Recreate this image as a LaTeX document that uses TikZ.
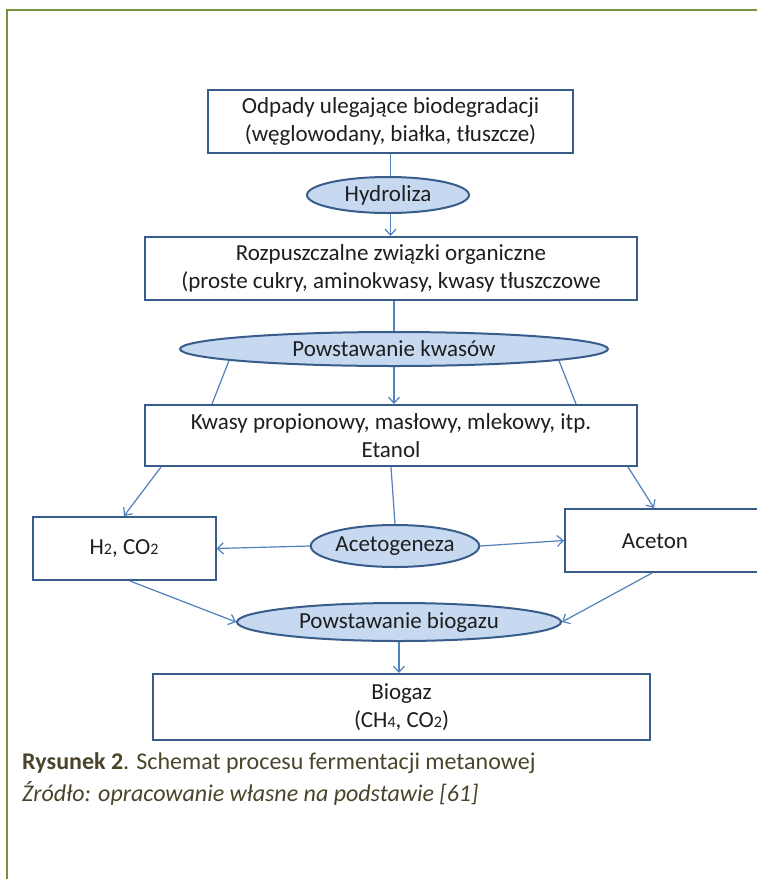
\documentclass[tikz,border=0pt]{standalone}
\usepackage{fontspec}
\setmainfont{Carlito}
\usetikzlibrary{shapes.geometric,arrows.meta}

\definecolor{framegreen}{RGB}{119,147,60}
\definecolor{boxedge}{RGB}{56,93,138}
\definecolor{linkblue}{RGB}{79,129,189}
\definecolor{ovalfill}{RGB}{198,217,241}
\definecolor{captext}{RGB}{74,69,42}
\definecolor{inktext}{RGB}{30,30,30}

% small chemical index digits
\newcommand\chemsub[1]{{\fontsize{16}{16}\selectfont #1}}

\begin{document}
\begin{tikzpicture}[x=1pt,y=-1pt,
  stagebox/.style={draw=boxedge,line width=2pt,fill=white,rectangle,
    inner sep=0pt,align=center,font=\fontsize{23}{28}\selectfont,text=inktext},
  process/.style={draw=boxedge,line width=2pt,fill=ovalfill,ellipse,
    inner sep=0pt,font=\fontsize{23}{28}\selectfont,text=inktext},
  link/.style={draw=linkblue,line width=1.2pt},
  flow/.style={link,-{Straight Barb[length=6pt,width=11pt,line width=1.2pt]}},
  caption/.style={anchor=base west,inner sep=0pt,text=captext,
    font=\fontsize{24}{29}\selectfont},
]
\useasboundingbox (0,0) rectangle (757,879);
\fill[white] (0,0) rectangle (757,879);

% page frame
\draw[framegreen,line width=2pt] (7,880) -- (7,10) -- (758,10);

% stages and processes
\node[stagebox,minimum width=365pt,minimum height=63pt] (b1) at (390.5,121.5)
  {Odpady ulegające biodegradacji\\(węglowodany, białka, tłuszcze)};
\node[process,minimum width=162pt,minimum height=36pt] (hyd) at (388,195) {Hydroliza};
\node[stagebox,minimum width=492pt,minimum height=63pt] (b2) at (391,268.5)
  {Rozpuszczalne związki organiczne\\(proste cukry, aminokwasy, kwasy tłuszczowe};
\node[process,minimum width=428pt,minimum height=34pt] (kw) at (394,349) {Powstawanie kwasów};
\node[stagebox,minimum width=492pt,minimum height=61pt] (b3) at (391,435.5)
  {Kwasy propionowy, masłowy, mlekowy, itp.\\Etanol};
\node[stagebox,minimum width=183pt,minimum height=63pt] (h2) at (124,548.5)
  {H\chemsub{2}, CO\chemsub{2}};
\node[process,minimum width=164pt,minimum height=42pt] (ace) at (395,546) {Acetogeneza};
\node[stagebox,minimum width=200pt,minimum height=63pt] (acebox) at (665,540.5) {};
\node[inner sep=0pt,font=\fontsize{23}{28}\selectfont,text=inktext] (acetxt) at (655,541) {Aceton};
\node[process,minimum width=324pt,minimum height=38pt] (bgz) at (399,622) {Powstawanie biogazu};
\node[stagebox,minimum width=497pt,minimum height=66pt] (bio) at (401.5,707)
  {Biogaz\\(CH\chemsub{4}, CO\chemsub{2})};

% connectors
\draw[link] (b1.south) -- (b1.south |- hyd.north);
\draw[flow] (b1.south |- hyd.south) -- (b1.south |- b2.north);
\draw[link] (kw.north |- b2.south) -- (kw.north);
\draw[flow] (kw.south) -- (kw.south |- b3.north);
\draw[link] (kw.184.5) -- ([xshift=68pt]b3.north west);
\draw[link] (kw.-4.5) -- ([xshift=-62pt]b3.north east);
\draw[flow] ([xshift=17pt]b3.south west) -- (h2.north);
\draw[flow] ([xshift=-10pt]b3.south east) -- ([xshift=90pt]acebox.north west);
\draw[link] (b3.south) -- (ace.north);
\draw[flow] (ace.west) -- (h2.east);
\draw[flow] (ace.east) -- (acebox.west);
\draw[flow] ([xshift=6pt]h2.south) -- (bgz.west);
\draw[flow] ([xshift=88pt]acebox.south west) -- (bgz.east);
\draw[flow] (bgz.south) -- (bgz.south |- bio.north);

% caption
\node[caption] (cap) at (22,769)
  {\textbf{Rysunek 2}. Schemat procesu fermentacji metanowej};
\node[caption] (src) at (22,801)
  {\textit{Źródło: opracowanie własne na podstawie [61]}};
\end{tikzpicture}
\end{document}
